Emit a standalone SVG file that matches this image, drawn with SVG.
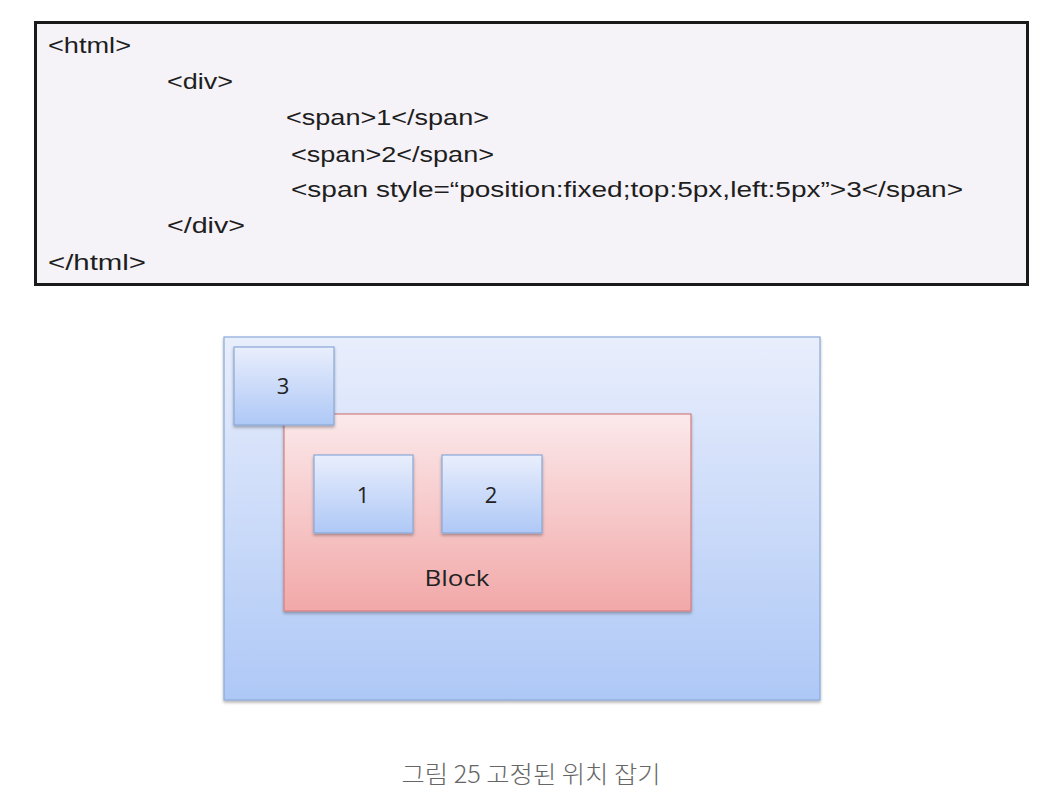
<svg xmlns="http://www.w3.org/2000/svg" width="1062" height="812" viewBox="0 0 1062 812">
<style>
.code{font-family:"Liberation Sans","Open Sans",sans-serif;font-size:22px;fill:#1e1e1e}
.lbl{font-family:"Open Sans","Liberation Sans",sans-serif;font-size:22px;fill:#222;text-anchor:middle;dominant-baseline:central}
.cap{font-family:"Noto Sans CJK KR","Noto Sans",sans-serif;font-size:24px;font-weight:300;fill:#666;text-anchor:middle}
.blue{fill:url(#gBlue);stroke:#89a8d8;stroke-width:1.2}
.pink{fill:url(#gPink);stroke:#d37f80;stroke-width:1.2}
</style>
<defs>
<linearGradient id="gBlue" x1="0" y1="0" x2="0" y2="1"><stop offset="0" stop-color="#e9eefc"/><stop offset="1" stop-color="#aec8f6"/></linearGradient>
<linearGradient id="gPink" x1="0" y1="0" x2="0" y2="1"><stop offset="0" stop-color="#fbe9eb"/><stop offset="1" stop-color="#f2a8a8"/></linearGradient>
<filter id="sh" x="-10%" y="-10%" width="120%" height="130%"><feDropShadow dx="0" dy="2" stdDeviation="1.5" flood-color="#000" flood-opacity="0.3"/></filter>
</defs>
<rect width="1062" height="812" fill="#fff"/>
<g id="code">
<rect x="35.5" y="22.5" width="992" height="262" fill="#f6f3f8" stroke="#1a1a1a" stroke-width="3"/>
<text class="code" x="48" y="53" textLength="83" lengthAdjust="spacingAndGlyphs">&lt;html&gt;</text>
<text class="code" x="167" y="89" textLength="66" lengthAdjust="spacingAndGlyphs">&lt;div&gt;</text>
<text class="code" x="286" y="125" textLength="203" lengthAdjust="spacingAndGlyphs">&lt;span&gt;1&lt;/span&gt;</text>
<text class="code" x="291" y="162" textLength="203" lengthAdjust="spacingAndGlyphs">&lt;span&gt;2&lt;/span&gt;</text>
<text class="code" x="291" y="197" textLength="672" lengthAdjust="spacingAndGlyphs">&lt;span style=“position:fixed;top:5px,left:5px”&gt;3&lt;/span&gt;</text>
<text class="code" x="167" y="233" textLength="78" lengthAdjust="spacingAndGlyphs">&lt;/div&gt;</text>
<text class="code" x="48" y="270" textLength="98" lengthAdjust="spacingAndGlyphs">&lt;/html&gt;</text>
</g>
<g id="viewport"><rect class="blue" x="224" y="337" width="596" height="363" filter="url(#sh)"/></g>
<g id="block"><rect class="pink" x="284" y="414" width="407" height="197" filter="url(#sh)"/><text class="lbl" x="457" y="577" textLength="65" lengthAdjust="spacingAndGlyphs">Block</text></g>
<g id="span1"><rect class="blue" x="314" y="455" width="99" height="78" filter="url(#sh)"/><text class="lbl" x="363" y="494">1</text></g>
<g id="span2"><rect class="blue" x="442" y="455" width="100" height="78" filter="url(#sh)"/><text class="lbl" x="491" y="494">2</text></g>
<g id="span3"><rect class="blue" x="234" y="347" width="100" height="78" filter="url(#sh)"/><text class="lbl" x="283" y="385">3</text></g>
<g id="connectors"/>
<text class="cap" x="531" y="783" textLength="259" lengthAdjust="spacingAndGlyphs">그림 25 고정된 위치 잡기</text>
</svg>
